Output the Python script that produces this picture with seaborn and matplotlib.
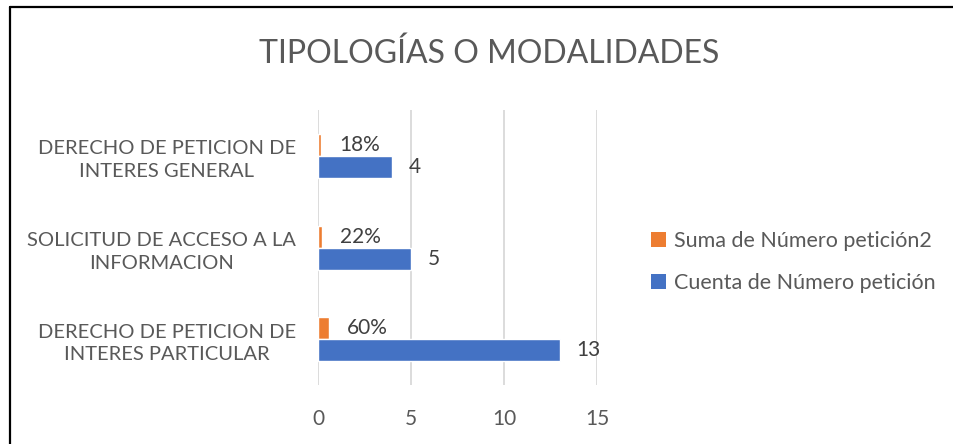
import matplotlib
matplotlib.use("Agg")
import matplotlib.pyplot as plt
import seaborn as sns
import pandas as pd
from matplotlib.patches import Patch
from matplotlib.lines import Line2D

categories = ["DERECHO DE PETICION DE\nINTERES GENERAL",
              "SOLICITUD DE ACCESO A LA\nINFORMACION",
              "DERECHO DE PETICION DE\nINTERES PARTICULAR"]
series_names = ["Suma de Número petición2", "Cuenta de Número petición"]
suma_vals = [0.18, 0.22, 0.60]
cuenta_vals = [4, 5, 13]
x_ticks = [0, 5, 10, 15]
title = "TIPOLOGÍAS O MODALIDADES"

colors = {"Suma de Número petición2": "#ED7D31", "Cuenta de Número petición": "#4472C4"}

df = pd.DataFrame({
    "cat": categories * 2,
    "serie": [series_names[0]] * 3 + [series_names[1]] * 3,
    "val": suma_vals + cuenta_vals,
})

sns.set_style("white")
plt.rcParams["font.family"] = ["Lato", "DejaVu Sans"]

fig = plt.figure(figsize=(9.54, 4.44), dpi=100)
ax = fig.add_axes([318/954, 1-385/444, (597-318)/954, (385-110)/444])

sns.barplot(data=df, y="cat", x="val", hue="serie", order=categories,
            hue_order=series_names, palette=colors, width=0.48, orient="h",
            ax=ax, legend=False, saturation=1, gap=0)

ax.set_xlim(0, 15)
ax.set_xticks(x_ticks)
ax.set_xticklabels([str(t) for t in x_ticks])
ax.grid(axis="x", color="#d9d9d9", linewidth=1.3)
ax.set_axisbelow(True)
for s in ax.spines.values():
    s.set_visible(False)
ax.set_xlabel("")
ax.set_ylabel("")
ax.tick_params(axis="x", length=0, pad=17, labelsize=15, labelcolor="#595959")
ax.tick_params(axis="y", length=0, pad=16, labelsize=14.5, labelcolor="#595959")
for lbl in ax.get_yticklabels():
    lbl.set_multialignment("center")
    lbl.set_linespacing(1.4)

conts = ax.containers
ax.bar_label(conts[0], labels=[f"{v:.0%}" for v in suma_vals], padding=13,
             fontsize=15, color="#404040")
ax.bar_label(conts[1], labels=[str(v) for v in cuenta_vals], padding=12,
             fontsize=15, color="#404040")

fig.text(489/954, 1-54/444, title, ha="center", va="center", fontsize=23,
         color="#595959", fontweight="normal")

handles = [Patch(facecolor=colors[n], edgecolor="none") for n in series_names]
fig.legend(handles, series_names, loc="center left", bbox_to_anchor=(632/954, 1-262/444),
           frameon=False, fontsize=15.5, handlelength=0.7, handleheight=0.7,
           handletextpad=0.35, labelspacing=1.0, labelcolor="#595959")

fig.add_artist(Line2D([10.5/954, 10.5/954], [0, 1-7.5/444], color="black", linewidth=1.6))
fig.add_artist(Line2D([10.5/954, 1], [1-7.5/444, 1-7.5/444], color="black", linewidth=1.6))

fig.savefig("out.png", dpi=100)
